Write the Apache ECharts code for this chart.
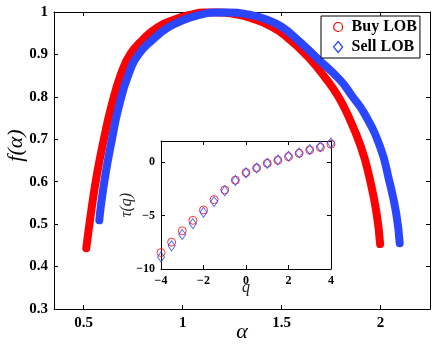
<!DOCTYPE html>
<html>
<head>
<meta charset="utf-8">
<script src="https://cdn.jsdelivr.net/npm/echarts@6/dist/echarts.min.js"></script>
<style>
  html, body { margin: 0; padding: 0; background: #fff; }
  #chart { width: 436px; height: 344px; }
</style>
</head>
<body>
<div id="chart"></div>
<script>
// multifractal spectrum f(alpha)
const buyAlpha = [0.513, 0.541, 0.568, 0.601, 0.639, 0.690, 0.736, 0.797, 0.873, 0.964, 1.035, 1.111,
  1.187, 1.263, 1.344, 1.435, 1.531, 1.638, 1.729, 1.785, 1.830, 1.901, 1.947, 1.980, 1.998]
const buyF = [0.443, 0.540, 0.620, 0.698, 0.776, 0.856, 0.901, 0.934, 0.964, 0.983, 0.993, 0.999,
  0.999, 0.995, 0.986, 0.969, 0.939, 0.892, 0.840, 0.802, 0.762, 0.682, 0.604, 0.526, 0.453]
const sellAlpha = [0.579, 0.586, 0.611, 0.642, 0.677, 0.729, 0.779, 0.847, 0.925, 1.014, 1.085, 1.161,
  1.237, 1.334, 1.420, 1.501, 1.582, 1.678, 1.795, 1.856, 1.917, 1.998, 2.043, 2.079, 2.097]
const sellF = [0.509, 0.540, 0.620, 0.698, 0.776, 0.856, 0.901, 0.934, 0.963, 0.983, 0.993, 0.999,
  0.999, 0.994, 0.983, 0.965, 0.934, 0.892, 0.840, 0.802, 0.762, 0.682, 0.604, 0.526, 0.455]

// inset: tau(q)
const qValues = [-4, -3.5, -3, -2.5, -2, -1.5, -1, -0.5, 0, 0.5, 1, 1.5, 2, 2.5, 3, 3.5, 4]
const tauBuy = [-8.46, -7.48, -6.42, -5.44, -4.47, -3.49, -2.58, -1.67, -0.96, -0.53, -0.09, 0.19, 0.53, 0.85, 1.16, 1.40, 1.70]
const tauSell = [-8.87, -7.83, -6.76, -5.75, -4.69, -3.68, -2.67, -1.70, -0.98, -0.53, -0.09, 0.22, 0.57, 0.88, 1.20, 1.48, 1.82]

const alphaTicks = [0.5, 1, 1.5, 2]
const fTicks = [0.3, 0.4, 0.5, 0.6, 0.7, 0.8, 0.9, 1]
const tauTicks = [-10, -5, 0]

const RED = '#ff0000'
const BLUE = '#2a46ff'
const SERIF = "'Liberation Serif', 'Times New Roman', serif"

const pairs = (xs, ys) => xs.map((x, i) => [x, ys[i]])
const minus = v => String(v).replace('-', '\u2212')

const boxAxis = (extra) => Object.assign({
  type: 'value',
  nameMoveOverlap: false,
  axisLine: { show: true, onZero: false, lineStyle: { color: '#000', width: 1 } },
  axisTick: { show: true, inside: true, length: 4, lineStyle: { color: '#000' } },
  axisLabel: { show: false },
  splitLine: { show: false }
}, extra)

const ticksAt = (vals) => ({ show: true, inside: true, length: 4, customValues: vals, lineStyle: { color: '#000' } })
const labelStyle = (size) => ({ color: '#000', fontFamily: SERIF, fontWeight: 'bold', fontSize: size })

const chart = echarts.init(document.getElementById('chart'), null, { renderer: 'canvas' })

const option = {
  backgroundColor: '#fff',
  animation: false,
  grid: [
    { left: 54, top: 12, right: 6, bottom: 35, outerBoundsMode: 'none' },
    { left: 161, top: 141, width: 170, height: 128, outerBoundsMode: 'none',
      show: true, backgroundColor: '#fff', borderWidth: 0 }
  ],
  legend: {
    left: 321, top: 16, orient: 'vertical',
    padding: [3, 3, 3, 12], itemGap: 4, itemWidth: 9, itemHeight: 11,
    borderColor: '#000', borderWidth: 1, backgroundColor: '#fff',
    formatter: name => ' ' + name,
    textStyle: labelStyle(16),
    data: [
      { name: 'Buy LOB', icon: 'circle', itemStyle: { color: 'rgba(0,0,0,0)', borderColor: RED, borderWidth: 1.2 } },
      { name: 'Sell LOB', icon: 'diamond', itemStyle: { color: 'rgba(0,0,0,0)', borderColor: BLUE, borderWidth: 1.2 } }
    ]
  },
  xAxis: [
    boxAxis({
      gridIndex: 0, position: 'bottom', min: 0.35, max: 2.25,
      axisTick: ticksAt(alphaTicks),
      axisLabel: Object.assign({ show: true, margin: 7, customValues: alphaTicks }, labelStyle(15)),
      name: 'α', nameLocation: 'middle', nameGap: 12,
      nameTextStyle: { color: '#000', fontFamily: SERIF, fontStyle: 'italic', fontSize: 22 }
    }),
    boxAxis({ gridIndex: 0, position: 'top', min: 0.35, max: 2.25, axisTick: ticksAt(alphaTicks) }),
    boxAxis({
      gridIndex: 1, position: 'bottom', min: -4, max: 4, interval: 2,
      axisLabel: Object.assign({ show: true, margin: 6, formatter: minus }, labelStyle(12)),
      name: 'q', nameLocation: 'middle', nameGap: 11,
      nameTextStyle: { color: '#222', fontFamily: SERIF, fontStyle: 'italic', fontSize: 16 }
    }),
    boxAxis({ gridIndex: 1, position: 'top', min: -4, max: 4, interval: 2 })
  ],
  yAxis: [
    boxAxis({
      gridIndex: 0, position: 'left', min: 0.3, max: 1,
      axisTick: ticksAt(fTicks),
      axisLabel: Object.assign({ show: true, margin: 6, customValues: fTicks,
        formatter: v => (v === 1 ? '1' : v.toFixed(1)) }, labelStyle(15)),
      name: 'f(α)', nameLocation: 'middle', nameGap: 27,
      nameTextStyle: { color: '#000', fontFamily: SERIF, fontStyle: 'italic', fontSize: 22, padding: [0, 0, 0, 30] }
    }),
    boxAxis({ gridIndex: 0, position: 'right', min: 0.3, max: 1, axisTick: ticksAt(fTicks) }),
    boxAxis({
      gridIndex: 1, position: 'left', min: -10, max: 2,
      axisTick: ticksAt(tauTicks),
      axisLabel: Object.assign({ show: true, margin: 6, customValues: tauTicks, formatter: minus }, labelStyle(12)),
      name: 'τ(q)', nameLocation: 'middle', nameGap: 26,
      nameTextStyle: { color: '#222', fontFamily: SERIF, fontStyle: 'italic', fontSize: 16 }
    }),
    boxAxis({ gridIndex: 1, position: 'right', min: -10, max: 2, axisTick: ticksAt(tauTicks) })
  ],
  series: [
    {
      name: 'Buy LOB', type: 'line', xAxisIndex: 0, yAxisIndex: 0,
      data: pairs(buyAlpha, buyF), smooth: 0.5, showSymbol: false, symbol: 'none',
      lineStyle: { color: RED, width: 8, cap: 'round', join: 'round' }, itemStyle: { color: RED }
    },
    {
      name: 'Sell LOB', type: 'line', xAxisIndex: 0, yAxisIndex: 0,
      data: pairs(sellAlpha, sellF), smooth: 0.5, showSymbol: false, symbol: 'none',
      lineStyle: { color: BLUE, width: 8, cap: 'round', join: 'round' }, itemStyle: { color: BLUE }
    },
    {
      name: 'tau buy', type: 'scatter', xAxisIndex: 2, yAxisIndex: 2,
      data: pairs(qValues, tauBuy), symbol: 'circle', symbolSize: 8,
      itemStyle: { color: 'rgba(0,0,0,0)', borderColor: RED, borderWidth: 1 }
    },
    {
      name: 'tau sell', type: 'scatter', xAxisIndex: 2, yAxisIndex: 2,
      data: pairs(qValues, tauSell), symbol: 'diamond', symbolSize: [7, 10],
      itemStyle: { color: 'rgba(0,0,0,0)', borderColor: BLUE, borderWidth: 1 }
    }
  ]
}

chart.setOption(option)
</script>
</body>
</html>
